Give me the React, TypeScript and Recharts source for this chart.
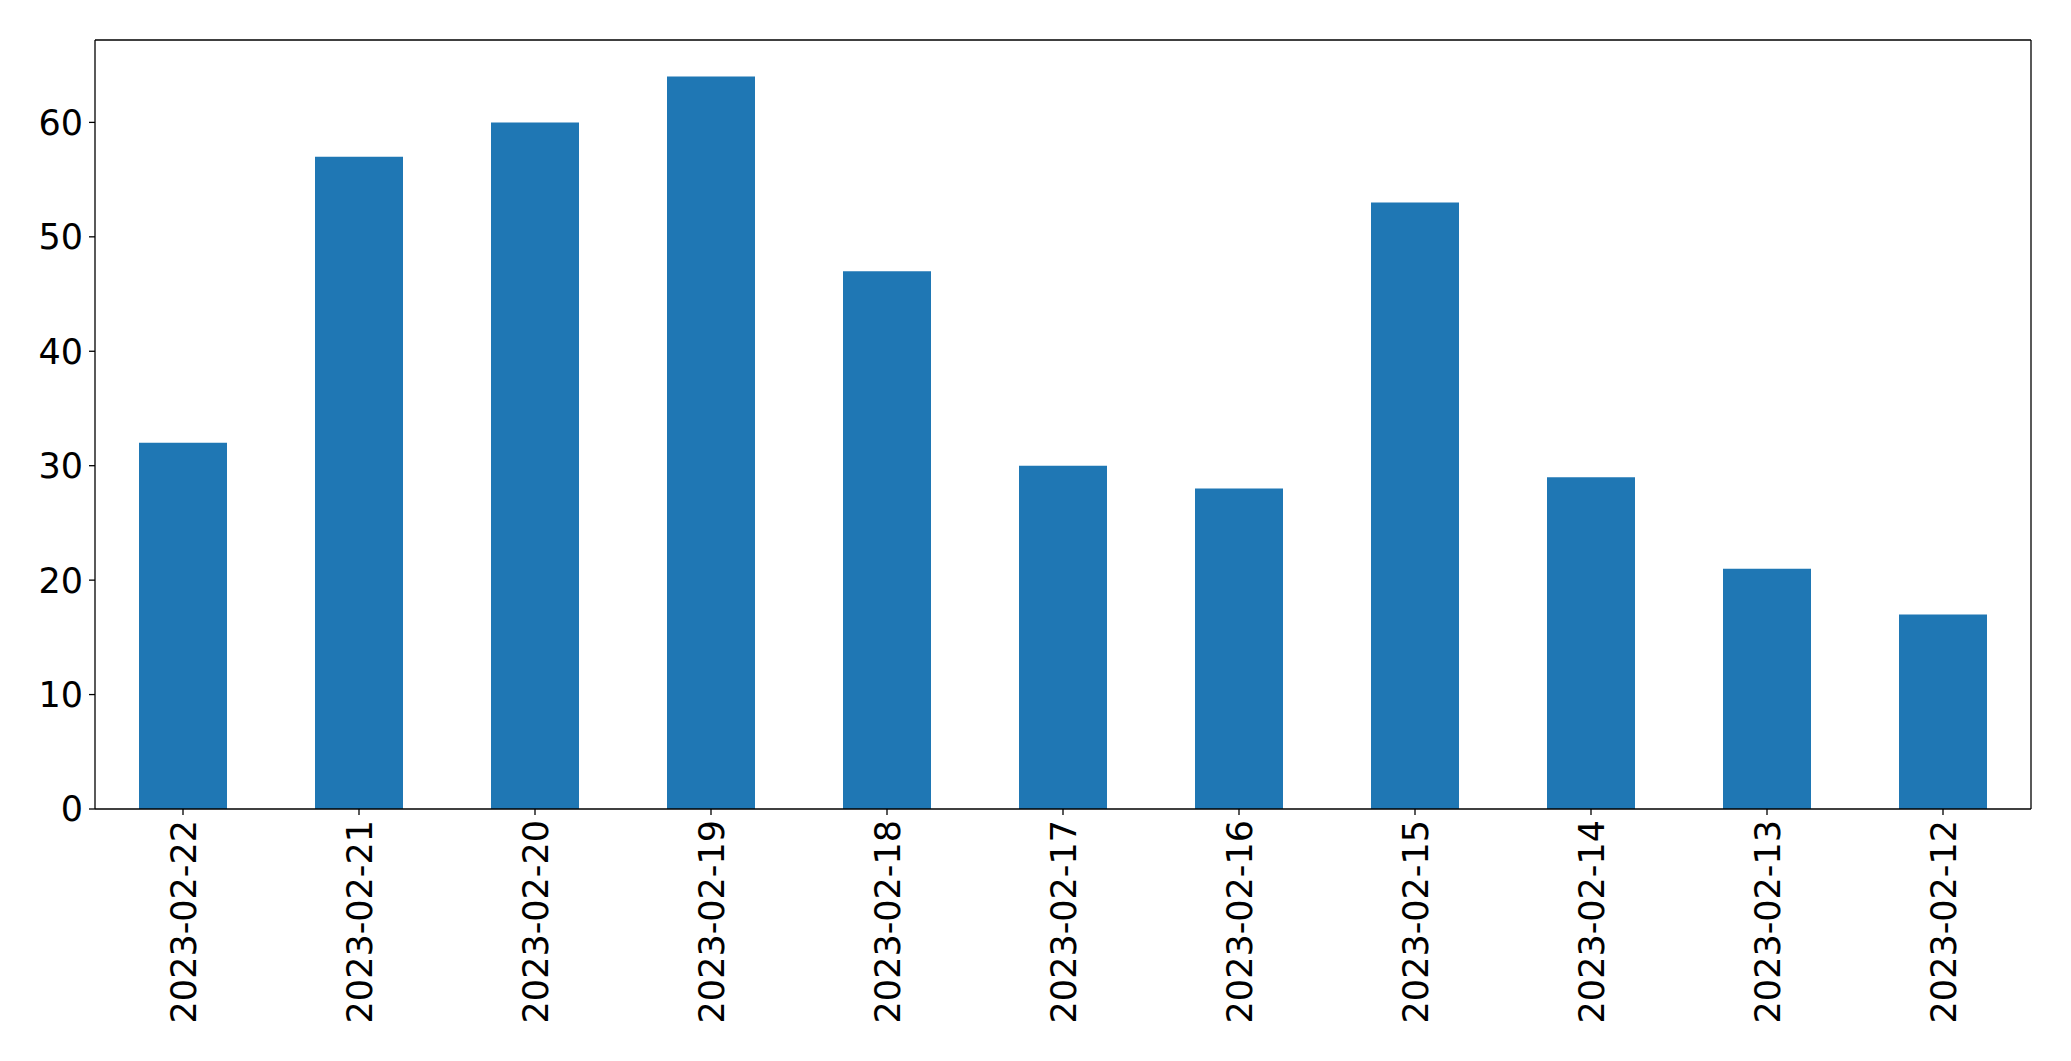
import { ComposedChart, Bar, Line, XAxis, YAxis } from "recharts";

const dates = [
  "2023-02-22", "2023-02-21", "2023-02-20", "2023-02-19", "2023-02-18", "2023-02-17",
  "2023-02-16", "2023-02-15", "2023-02-14", "2023-02-13", "2023-02-12",
];
const counts = [32, 57, 60, 64, 47, 30, 28, 53, 29, 21, 17];
const yTicks = [0, 10, 20, 30, 40, 50, 60];

const data = dates.map((d, i) => ({ date: d, count: counts[i] }));

const FONT = "'DejaVu Sans', sans-serif";
const AXIS = { stroke: "#000", strokeWidth: 1.3 };

function DateTick(props: any) {
  const { x, y, payload } = props;
  return (
    <text
      transform={`translate(${x},${y}) rotate(-90)`}
      textAnchor="end"
      dy="0.36em"
      fontSize={35}
      fontFamily={FONT}
      fill="#000"
    >
      {payload.value}
    </text>
  );
}

export default function App() {
  return (
    <div style={{ position: "absolute", left: 0, top: 0, width: 2071, height: 1061, background: "#fff" }}>
      <ComposedChart
        width={2071}
        height={1061}
        data={data}
        margin={{ top: 39, right: 39, bottom: 0, left: 15 }}
        barCategoryGap="25%"
      >
        <XAxis
          dataKey="date"
          height={252}
          interval={0}
          tick={<DateTick />}
          tickSize={6}
          tickMargin={5}
          axisLine={AXIS}
          tickLine={AXIS}
        />
        {/* top & right spines of the frame */}
        <XAxis
          xAxisId="top"
          orientation="top"
          dataKey="date"
          height={1}
          tick={false}
          tickLine={false}
          axisLine={AXIS}
        />
        <YAxis
          width={80}
          domain={[0, 67.2]}
          ticks={yTicks}
          tickSize={6}
          tickMargin={6}
          tick={{ fontSize: 35, fontFamily: FONT, fill: "#000" }}
          axisLine={AXIS}
          tickLine={AXIS}
        />
        <YAxis
          yAxisId="right"
          orientation="right"
          width={1}
          domain={[0, 67.2]}
          tick={false}
          tickLine={false}
          axisLine={AXIS}
        />
        <Bar dataKey="count" fill="#1f77b4" isAnimationActive={false} />
        <Line
          xAxisId="top"
          yAxisId="right"
          dataKey="count"
          stroke="none"
          dot={false}
          activeDot={false}
          isAnimationActive={false}
        />
      </ComposedChart>
    </div>
  );
}
